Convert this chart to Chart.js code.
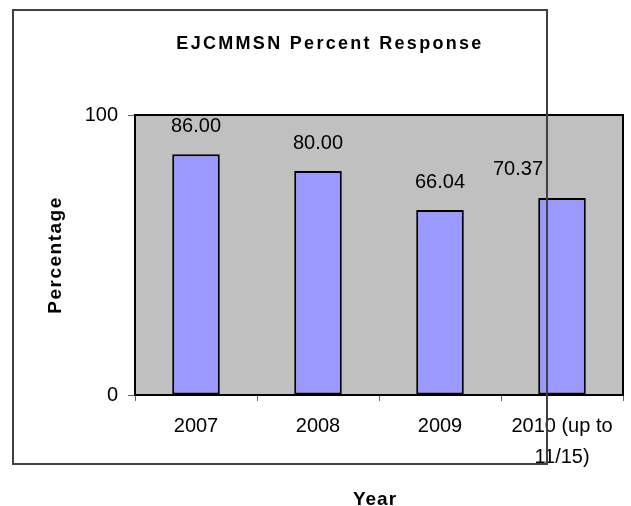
<!DOCTYPE html>
<html>
<head>
<meta charset="utf-8">
<script src="https://cdn.jsdelivr.net/npm/chart.js@4/dist/chart.umd.min.js"></script>
<style>
  body { margin: 0; background: #fff; }
  canvas { display: block; }
</style>
</head>
<body>
<canvas id="responseChart" width="631" height="506"></canvas>
<script>
// values
const years = ['2007', '2008', '2009', ['2010 (up to', '11/15)']];
const percentResponse = [86.00, 80.00, 66.04, 70.37];
const yTicks = [0, 100];

const chartTitle = 'EJCMMSN Percent Response';
const yTitle = 'Percentage';
const xTitle = 'Year';

const FONT = "'Liberation Sans', Arial, sans-serif";

// plot background, frame, value labels and the spaced-out bold titles
const decorations = {
  id: 'decorations',
  beforeDatasetsDraw(chart) {
    const { ctx, chartArea: a } = chart;
    ctx.save();
    ctx.fillStyle = '#c0c0c0';
    ctx.fillRect(a.left, a.top, a.right - a.left, a.bottom - a.top);
    ctx.restore();
  },
  afterDatasetsDraw(chart) {
    const { ctx, chartArea: a } = chart;
    ctx.save();
    ctx.strokeStyle = '#000';
    ctx.lineWidth = 2;
    ctx.strokeRect(a.left, a.top, a.right - a.left, a.bottom - a.top);

    // value labels above bars (last one sits a bit left, like the original)
    ctx.fillStyle = '#000';
    ctx.font = '20px ' + FONT;
    ctx.textAlign = 'center';
    ctx.textBaseline = 'middle';
    const bars = chart.getDatasetMeta(0).data;
    bars.forEach((bar, i) => {
      const nudge = i === bars.length - 1 ? -44 : 0;
      ctx.fillText(percentResponse[i].toFixed(2), bar.x + nudge, bar.y - 28);
    });
    ctx.restore();
  },
  afterDraw(chart) {
    const { ctx, chartArea: a } = chart;
    ctx.save();
    ctx.fillStyle = '#000';
    ctx.font = 'bold 18px ' + FONT;
    ctx.letterSpacing = '2.3px';
    ctx.textAlign = 'center';
    ctx.textBaseline = 'alphabetic';
    ctx.fillText(chartTitle, 330, 49);

    ctx.font = 'bold 19px ' + FONT;
    ctx.letterSpacing = '1px';
    ctx.fillText(xTitle, (a.left + a.right) / 2 - 4, 505);

    ctx.letterSpacing = '1.5px';
    ctx.translate(61, (a.top + a.bottom) / 2);
    ctx.rotate(-Math.PI / 2);
    ctx.fillText(yTitle, 0, 0);
    ctx.restore();

    // outer frame that sits over the chart
    ctx.save();
    ctx.strokeStyle = '#404040';
    ctx.lineWidth = 2;
    ctx.strokeRect(13, 10, 534, 454);
    ctx.restore();
  }
};

const ctx = document.getElementById('responseChart').getContext('2d');
new Chart(ctx, {
  type: 'bar',
  data: {
    labels: years,
    datasets: [{
      data: percentResponse,
      backgroundColor: '#9999ff',
      borderColor: '#000',
      borderWidth: 2,
      borderSkipped: false,
      barPercentage: 0.39,
      categoryPercentage: 1
    }]
  },
  options: {
    responsive: false,
    animation: false,
    layout: { padding: { top: 115, right: 8, left: 0, bottom: 0 } },
    plugins: {
      legend: { display: false },
      title: { display: false },
      tooltip: { enabled: false }
    },
    scales: {
      x: {
        border: { display: false },
        grid: { drawOnChartArea: false, drawTicks: true, tickLength: 6, color: '#666', offset: true },
        ticks: { color: '#000', font: { family: FONT, size: 20, lineHeight: 1.55 }, padding: 10, maxRotation: 0, autoSkip: false },
        afterFit: s => { s.height = 111; }
      },
      y: {
        min: 0,
        max: 100,
        border: { display: false },
        grid: { drawOnChartArea: false, drawTicks: true, tickLength: 7, color: '#666' },
        afterBuildTicks: s => { s.ticks = yTicks.map(v => ({ value: v })); },
        ticks: { color: '#000', font: { family: FONT, size: 20 }, padding: 10 },
        afterFit: s => { s.width = 135; }
      }
    }
  },
  plugins: [decorations]
});
</script>
</body>
</html>
